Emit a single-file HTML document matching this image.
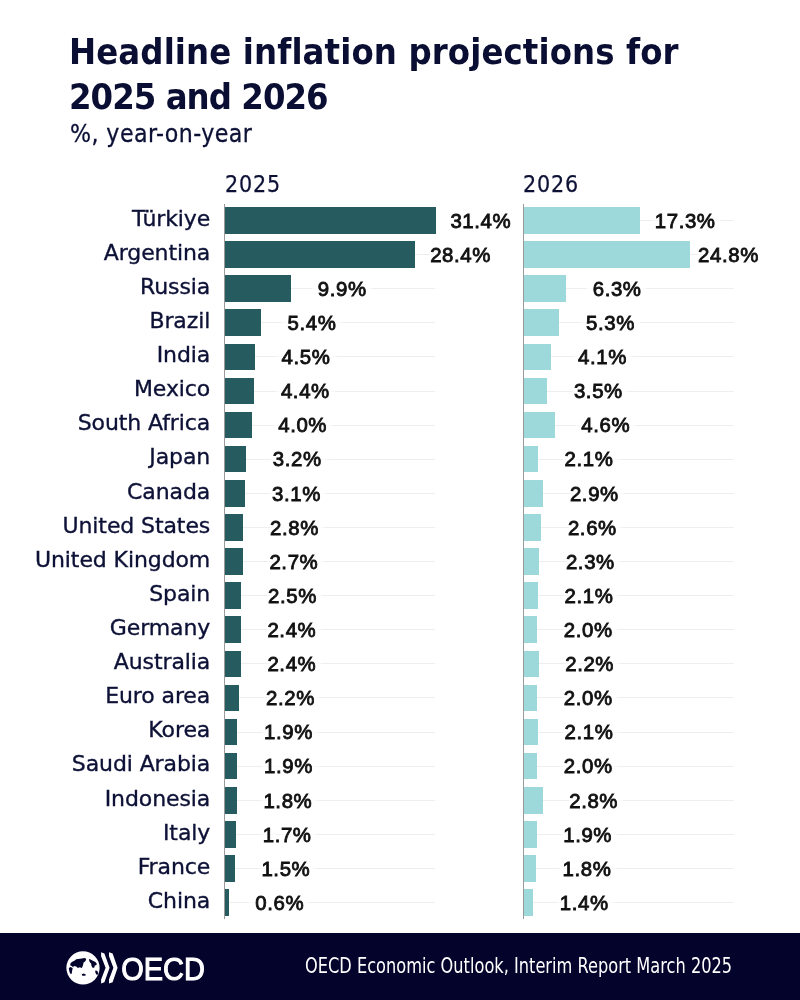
<!DOCTYPE html>
<html lang="en"><head><meta charset="utf-8"><title>Headline inflation projections for 2025 and 2026</title>
<style>
html,body{margin:0;padding:0;background:#fff;}
body{width:800px;height:1000px;position:relative;overflow:hidden;font-family:"DejaVu Sans","Liberation Sans",sans-serif;color:#0d1136;}
.abs{position:absolute;white-space:nowrap;line-height:1;}
.t{font-family:"DejaVu Sans","Liberation Sans",sans-serif;font-weight:bold;font-size:36px;left:69px;color:#0b0e33;transform-origin:0 0;transform:scaleX(0.9);}
.sub{font-family:"DejaVu Sans","Liberation Sans",sans-serif;font-size:24.6px;left:70px;letter-spacing:0.467px;transform-origin:0 0;transform:scaleX(0.9);-webkit-text-stroke:0.3px #0d1136;}
.hd{font-family:"DejaVu Sans","Liberation Sans",sans-serif;font-size:23px;letter-spacing:0.944px;transform-origin:0 0;transform:scaleX(0.9);-webkit-text-stroke:0.25px #0d1136;}
.c{font-size:22px;right:589.8px;text-align:right;letter-spacing:-0.1px;-webkit-text-stroke:0.35px #0d1136;}
.v{font-family:"Liberation Sans",sans-serif;font-weight:normal;font-size:20.4px;letter-spacing:0.6px;color:#111;-webkit-text-stroke:0.85px #111;text-align:right;
   text-shadow:0 0 3px #fff,0 0 3px #fff,0 0 4px #fff,3px 0 2px #fff,-3px 0 2px #fff,0 2px 2px #fff,0 -2px 2px #fff,5px 0 2px #fff,-5px 0 2px #fff,7px 0 2px #fff,-7px 0 2px #fff;}
.g{position:absolute;height:1px;background:#eeeeee;}
.b1{position:absolute;background:#265b5f;}
.b2{position:absolute;background:#9dd9da;}
.ax{position:absolute;width:1px;background:#9a9a9a;top:203.5px;height:715.5px;}
.ft{position:absolute;left:0;top:933px;width:800px;height:67px;background:#03032c;}
.src{font-family:"DejaVu Sans","Liberation Sans",sans-serif;font-size:20.8px;color:#fff;left:305.3px;top:955.8px;transform-origin:0 0;transform:scaleX(0.7794);}
</style></head><body>
<div class="abs t" style="top:33.5px;letter-spacing:0.133px">Headline inflation projections for</div>
<div class="abs t" style="top:79px;letter-spacing:-1.056px">2025 and 2026</div>
<div class="abs sub" style="top:122px">%, year-on-year</div>
<div class="abs hd" style="left:224.8px;top:173.3px">2025</div>
<div class="abs hd" style="left:523.2px;top:173.3px">2026</div>

<div class="g" style="left:224.7px;width:210px;top:219.9px"></div>
<div class="g" style="left:523.8px;width:210px;top:219.9px"></div>
<div class="g" style="left:224.7px;width:210px;top:254.0px"></div>
<div class="g" style="left:523.8px;width:210px;top:254.0px"></div>
<div class="g" style="left:224.7px;width:210px;top:288.1px"></div>
<div class="g" style="left:523.8px;width:210px;top:288.1px"></div>
<div class="g" style="left:224.7px;width:210px;top:322.2px"></div>
<div class="g" style="left:523.8px;width:210px;top:322.2px"></div>
<div class="g" style="left:224.7px;width:210px;top:356.3px"></div>
<div class="g" style="left:523.8px;width:210px;top:356.3px"></div>
<div class="g" style="left:224.7px;width:210px;top:390.5px"></div>
<div class="g" style="left:523.8px;width:210px;top:390.5px"></div>
<div class="g" style="left:224.7px;width:210px;top:424.6px"></div>
<div class="g" style="left:523.8px;width:210px;top:424.6px"></div>
<div class="g" style="left:224.7px;width:210px;top:458.7px"></div>
<div class="g" style="left:523.8px;width:210px;top:458.7px"></div>
<div class="g" style="left:224.7px;width:210px;top:492.8px"></div>
<div class="g" style="left:523.8px;width:210px;top:492.8px"></div>
<div class="g" style="left:224.7px;width:210px;top:526.9px"></div>
<div class="g" style="left:523.8px;width:210px;top:526.9px"></div>
<div class="g" style="left:224.7px;width:210px;top:561.0px"></div>
<div class="g" style="left:523.8px;width:210px;top:561.0px"></div>
<div class="g" style="left:224.7px;width:210px;top:595.1px"></div>
<div class="g" style="left:523.8px;width:210px;top:595.1px"></div>
<div class="g" style="left:224.7px;width:210px;top:629.2px"></div>
<div class="g" style="left:523.8px;width:210px;top:629.2px"></div>
<div class="g" style="left:224.7px;width:210px;top:663.3px"></div>
<div class="g" style="left:523.8px;width:210px;top:663.3px"></div>
<div class="g" style="left:224.7px;width:210px;top:697.4px"></div>
<div class="g" style="left:523.8px;width:210px;top:697.4px"></div>
<div class="g" style="left:224.7px;width:210px;top:731.5px"></div>
<div class="g" style="left:523.8px;width:210px;top:731.5px"></div>
<div class="g" style="left:224.7px;width:210px;top:765.7px"></div>
<div class="g" style="left:523.8px;width:210px;top:765.7px"></div>
<div class="g" style="left:224.7px;width:210px;top:799.8px"></div>
<div class="g" style="left:523.8px;width:210px;top:799.8px"></div>
<div class="g" style="left:224.7px;width:210px;top:833.9px"></div>
<div class="g" style="left:523.8px;width:210px;top:833.9px"></div>
<div class="g" style="left:224.7px;width:210px;top:868.0px"></div>
<div class="g" style="left:523.8px;width:210px;top:868.0px"></div>
<div class="g" style="left:224.7px;width:210px;top:902.1px"></div>
<div class="g" style="left:523.8px;width:210px;top:902.1px"></div>
<div class="abs c" style="top:207.6px">Türkiye</div>
<div class="b1" style="left:224.7px;top:207.1px;width:211.0px;height:26.6px"></div>
<div class="b2" style="left:523.8px;top:207.1px;width:116.3px;height:26.6px"></div>
<div class="abs v" style="right:288.8px;top:210.6px">31.4%</div>
<div class="abs v" style="right:84.4px;top:210.6px">17.3%</div>
<div class="abs c" style="top:241.7px">Argentina</div>
<div class="b1" style="left:224.7px;top:241.2px;width:190.8px;height:26.6px"></div>
<div class="b2" style="left:523.8px;top:241.2px;width:166.7px;height:26.6px"></div>
<div class="abs v" style="right:309.0px;top:244.7px">28.4%</div>
<div class="abs v" style="right:41.1px;top:244.7px">24.8%</div>
<div class="abs c" style="top:275.8px">Russia</div>
<div class="b1" style="left:224.7px;top:275.3px;width:66.5px;height:26.6px"></div>
<div class="b2" style="left:523.8px;top:275.3px;width:42.3px;height:26.6px"></div>
<div class="abs v" style="right:433.3px;top:278.8px">9.9%</div>
<div class="abs v" style="right:158.4px;top:278.8px">6.3%</div>
<div class="abs c" style="top:309.9px">Brazil</div>
<div class="b1" style="left:224.7px;top:309.4px;width:36.3px;height:26.6px"></div>
<div class="b2" style="left:523.8px;top:309.4px;width:35.6px;height:26.6px"></div>
<div class="abs v" style="right:463.5px;top:312.9px">5.4%</div>
<div class="abs v" style="right:165.1px;top:312.9px">5.3%</div>
<div class="abs c" style="top:344.0px">India</div>
<div class="b1" style="left:224.7px;top:343.5px;width:30.2px;height:26.6px"></div>
<div class="b2" style="left:523.8px;top:343.5px;width:27.6px;height:26.6px"></div>
<div class="abs v" style="right:469.6px;top:347.0px">4.5%</div>
<div class="abs v" style="right:173.1px;top:347.0px">4.1%</div>
<div class="abs c" style="top:378.2px">Mexico</div>
<div class="b1" style="left:224.7px;top:377.7px;width:29.6px;height:26.6px"></div>
<div class="b2" style="left:523.8px;top:377.7px;width:23.5px;height:26.6px"></div>
<div class="abs v" style="right:470.2px;top:381.2px">4.4%</div>
<div class="abs v" style="right:177.2px;top:381.2px">3.5%</div>
<div class="abs c" style="top:412.3px">South Africa</div>
<div class="b1" style="left:224.7px;top:411.8px;width:26.9px;height:26.6px"></div>
<div class="b2" style="left:523.8px;top:411.8px;width:30.9px;height:26.6px"></div>
<div class="abs v" style="right:472.9px;top:415.3px">4.0%</div>
<div class="abs v" style="right:169.8px;top:415.3px">4.6%</div>
<div class="abs c" style="top:446.4px">Japan</div>
<div class="b1" style="left:224.7px;top:445.9px;width:21.5px;height:26.6px"></div>
<div class="b2" style="left:523.8px;top:445.9px;width:14.1px;height:26.6px"></div>
<div class="abs v" style="right:478.3px;top:449.4px">3.2%</div>
<div class="abs v" style="right:186.6px;top:449.4px">2.1%</div>
<div class="abs c" style="top:480.5px">Canada</div>
<div class="b1" style="left:224.7px;top:480.0px;width:20.8px;height:26.6px"></div>
<div class="b2" style="left:523.8px;top:480.0px;width:19.5px;height:26.6px"></div>
<div class="abs v" style="right:479.0px;top:483.5px">3.1%</div>
<div class="abs v" style="right:181.2px;top:483.5px">2.9%</div>
<div class="abs c" style="top:514.6px">United States</div>
<div class="b1" style="left:224.7px;top:514.1px;width:18.8px;height:26.6px"></div>
<div class="b2" style="left:523.8px;top:514.1px;width:17.5px;height:26.6px"></div>
<div class="abs v" style="right:481.0px;top:517.6px">2.8%</div>
<div class="abs v" style="right:183.2px;top:517.6px">2.6%</div>
<div class="abs c" style="top:548.7px">United Kingdom</div>
<div class="b1" style="left:224.7px;top:548.2px;width:18.1px;height:26.6px"></div>
<div class="b2" style="left:523.8px;top:548.2px;width:15.5px;height:26.6px"></div>
<div class="abs v" style="right:481.7px;top:551.7px">2.7%</div>
<div class="abs v" style="right:185.2px;top:551.7px">2.3%</div>
<div class="abs c" style="top:582.8px">Spain</div>
<div class="b1" style="left:224.7px;top:582.3px;width:16.8px;height:26.6px"></div>
<div class="b2" style="left:523.8px;top:582.3px;width:14.1px;height:26.6px"></div>
<div class="abs v" style="right:483.0px;top:585.8px">2.5%</div>
<div class="abs v" style="right:186.6px;top:585.8px">2.1%</div>
<div class="abs c" style="top:616.9px">Germany</div>
<div class="b1" style="left:224.7px;top:616.4px;width:16.1px;height:26.6px"></div>
<div class="b2" style="left:523.8px;top:616.4px;width:13.4px;height:26.6px"></div>
<div class="abs v" style="right:483.7px;top:619.9px">2.4%</div>
<div class="abs v" style="right:187.3px;top:619.9px">2.0%</div>
<div class="abs c" style="top:651.0px">Australia</div>
<div class="b1" style="left:224.7px;top:650.5px;width:16.1px;height:26.6px"></div>
<div class="b2" style="left:523.8px;top:650.5px;width:14.8px;height:26.6px"></div>
<div class="abs v" style="right:483.7px;top:654.0px">2.4%</div>
<div class="abs v" style="right:185.9px;top:654.0px">2.2%</div>
<div class="abs c" style="top:685.1px">Euro area</div>
<div class="b1" style="left:224.7px;top:684.6px;width:14.8px;height:26.6px"></div>
<div class="b2" style="left:523.8px;top:684.6px;width:13.4px;height:26.6px"></div>
<div class="abs v" style="right:485.0px;top:688.1px">2.2%</div>
<div class="abs v" style="right:187.3px;top:688.1px">2.0%</div>
<div class="abs c" style="top:719.2px">Korea</div>
<div class="b1" style="left:224.7px;top:718.8px;width:12.8px;height:26.6px"></div>
<div class="b2" style="left:523.8px;top:718.8px;width:14.1px;height:26.6px"></div>
<div class="abs v" style="right:487.0px;top:722.2px">1.9%</div>
<div class="abs v" style="right:186.6px;top:722.2px">2.1%</div>
<div class="abs c" style="top:753.4px">Saudi Arabia</div>
<div class="b1" style="left:224.7px;top:752.9px;width:12.8px;height:26.6px"></div>
<div class="b2" style="left:523.8px;top:752.9px;width:13.4px;height:26.6px"></div>
<div class="abs v" style="right:487.0px;top:756.4px">1.9%</div>
<div class="abs v" style="right:187.3px;top:756.4px">2.0%</div>
<div class="abs c" style="top:787.5px">Indonesia</div>
<div class="b1" style="left:224.7px;top:787.0px;width:12.1px;height:26.6px"></div>
<div class="b2" style="left:523.8px;top:787.0px;width:18.8px;height:26.6px"></div>
<div class="abs v" style="right:487.7px;top:790.5px">1.8%</div>
<div class="abs v" style="right:181.9px;top:790.5px">2.8%</div>
<div class="abs c" style="top:821.6px">Italy</div>
<div class="b1" style="left:224.7px;top:821.1px;width:11.4px;height:26.6px"></div>
<div class="b2" style="left:523.8px;top:821.1px;width:12.8px;height:26.6px"></div>
<div class="abs v" style="right:488.4px;top:824.6px">1.7%</div>
<div class="abs v" style="right:187.9px;top:824.6px">1.9%</div>
<div class="abs c" style="top:855.7px">France</div>
<div class="b1" style="left:224.7px;top:855.2px;width:10.1px;height:26.6px"></div>
<div class="b2" style="left:523.8px;top:855.2px;width:12.1px;height:26.6px"></div>
<div class="abs v" style="right:489.7px;top:858.7px">1.5%</div>
<div class="abs v" style="right:188.6px;top:858.7px">1.8%</div>
<div class="abs c" style="top:889.8px">China</div>
<div class="b1" style="left:224.7px;top:889.3px;width:4.0px;height:26.6px"></div>
<div class="b2" style="left:523.8px;top:889.3px;width:9.4px;height:26.6px"></div>
<div class="abs v" style="right:495.8px;top:892.8px">0.6%</div>
<div class="abs v" style="right:191.3px;top:892.8px">1.4%</div>
<div class="ax" style="left:224px"></div><div class="ax" style="left:523px"></div>
<div class="ft"></div>
<svg class="abs" style="left:60px;top:945px" width="160" height="46" viewBox="60 945 160 46">
<circle cx="83" cy="967.9" r="16.6" fill="#fff"/>
<g fill="#03032c">
<path d="M70.3 963.8 L71.8 962.1 L74.4 960.8 L76.2 959.2 L80.1 958.8 L84.9 958.1 L86.2 959.0 L85.4 961.2 L83.6 962.5 L82.9 965.6 L81.9 967.9 L79.7 967.3 L77.9 967.9 L76.2 966.4 L74.0 966.0 L73.1 967.3 L71.8 966.0 L70.3 965.6Z"/>
<path d="M68.8 967.9 L70.5 966.9 L72.7 967.9 L72.2 970.4 L71.6 973.9 L70.1 973.4 L69.2 970.8Z"/>
<path d="M88.9 959.0 L90.6 959.4 L92.8 960.8 L95.4 962.1 L96.8 963.8 L96.3 965.3 L94.8 965.6 L94.3 967.6 L92.8 967.9 L91.5 966.0 L91.1 963.5 L89.6 962.1Z"/>
<path d="M81.7 974.3 L83.6 973.4 L85.8 974.6 L85.4 975.8 L82.3 975.8Z"/>
<path d="M95.2 970.5 L97.2 970.8 L98.2 973.0 L97.8 974.8 L96.3 974.6 L95.4 972.6Z"/>
</g>
<path d="M101.1 952.2 L104.4 953.4 L109.6 967.8 L104.4 982.3 L101.1 983.5 L101.1 979.5 L105.6 967.8 L101.1 956.2Z" fill="#fff"/>
<path d="M109 952.2 L112.6 953.4 L117.6 967.8 L112.6 982.3 L109 983.5 L109 979.5 L113.4 967.8 L109 956.2Z" fill="#fff"/>
<text x="121.3" y="980" font-family="Liberation Sans, sans-serif" font-size="31.2" fill="#fff" stroke="#fff" stroke-width="1.1" textLength="83.5" lengthAdjust="spacingAndGlyphs">OECD</text>
</svg>
<div class="abs src">OECD Economic Outlook, Interim Report March 2025</div>
</body></html>
